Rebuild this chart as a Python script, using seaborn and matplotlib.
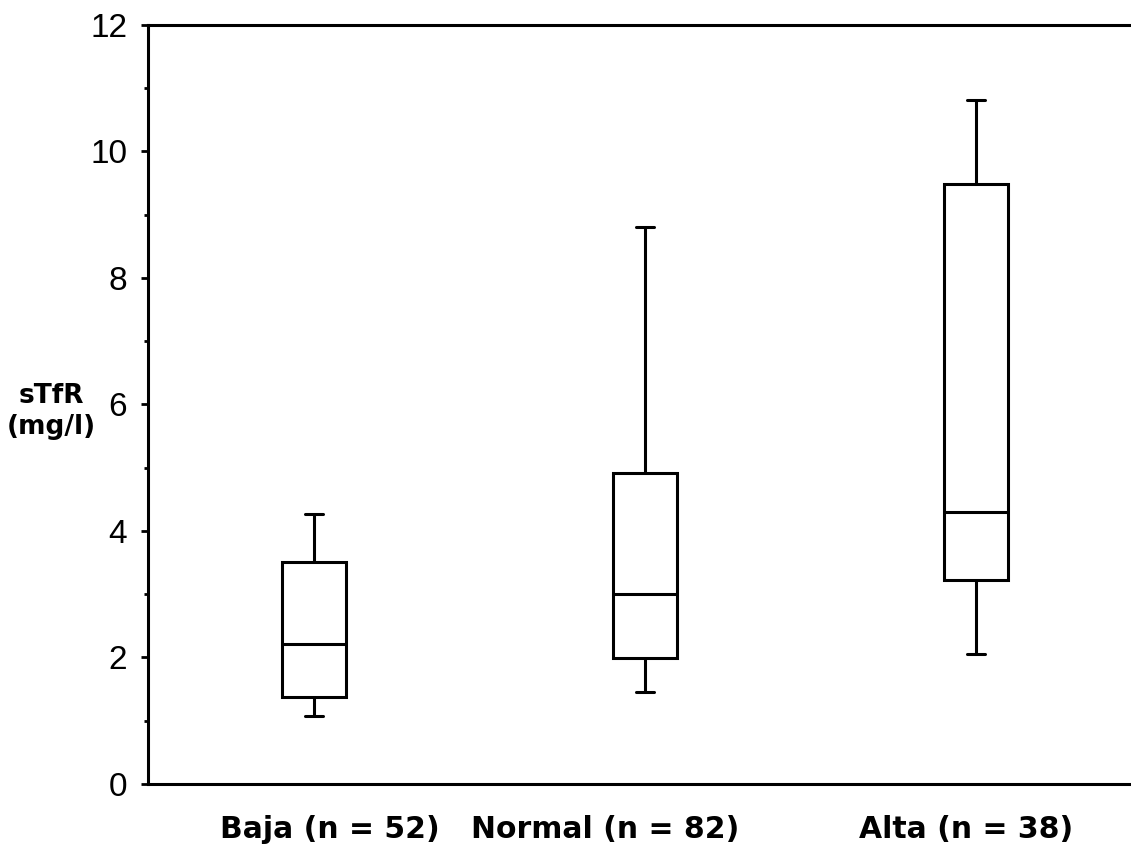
import numpy as np
import pandas as pd
import seaborn as sns
import matplotlib.pyplot as plt
from matplotlib.ticker import MultipleLocator

# five-number summaries (mg/l)
categories = ["Baja (n = 52)", "Normal (n = 82)", "Alta (n = 38)"]
whisker_low = [1.08, 1.46, 2.06]
q1 = [1.38, 1.99, 3.23]
median = [2.22, 3.00, 4.30]
q3 = [3.51, 4.91, 9.48]
whisker_high = [4.27, 8.80, 10.81]

# one row per summary value; with whis=(0, 100) the boxplot reproduces them exactly
rows = []
for cat, a, b, c, d, e in zip(categories, whisker_low, q1, median, q3, whisker_high):
    for v in (a, b, c, d, e):
        rows.append({"grupo": cat, "sTfR": v})
df = pd.DataFrame(rows)

sns.set_style("white")
plt.rcParams["font.family"] = ["Liberation Sans", "DejaVu Sans"]
plt.rcParams["text.color"] = "black"
plt.rcParams["xtick.color"] = "black"
plt.rcParams["ytick.color"] = "black"
plt.rcParams["axes.labelcolor"] = "black"

fig = plt.figure(figsize=(11.31, 8.6), dpi=100)
ax = fig.add_axes([0.1309, 0.0884, 0.8681, 0.8826])

sns.boxplot(
    data=df,
    x="grupo",
    y="sTfR",
    order=categories,
    whis=(0, 100),
    width=0.195,
    color="white",
    linecolor="black",
    linewidth=2.2,
    capwidths=0.055,
    showfliers=False,
    ax=ax,
)

ax.set_xlim(-0.5015, 2.465)
ax.set_ylim(0, 12)
ax.yaxis.set_major_locator(MultipleLocator(2))
ax.yaxis.set_minor_locator(MultipleLocator(1))
ax.tick_params(axis="y", which="major", direction="out", length=5, width=2,
               labelsize=24, pad=10, left=True, colors="black")
ax.tick_params(axis="y", which="minor", direction="out", length=3, width=2,
               left=True, colors="black")

# category labels sit slightly off the box centres in the original
ax.set_xticks([0.048, 0.879, 1.97])
ax.set_xticklabels(categories, fontsize=21.5, fontweight="bold",
                   family="DejaVu Sans", color="black")
ax.tick_params(axis="x", length=0, pad=22)
ax.set_xlabel("")
ax.set_ylabel("")

for side in ["left", "top", "bottom"]:
    ax.spines[side].set_visible(True)
    ax.spines[side].set_color("black")
    ax.spines[side].set_linewidth(2.2)
ax.spines["right"].set_visible(False)

fig.text(0.045, 0.522, "sTfR\n(mg/l)", ha="center", va="center",
         multialignment="center", fontsize=19, fontweight="bold",
         family="DejaVu Sans", linespacing=1.25, color="black")

fig.savefig("out.png", dpi=100)
